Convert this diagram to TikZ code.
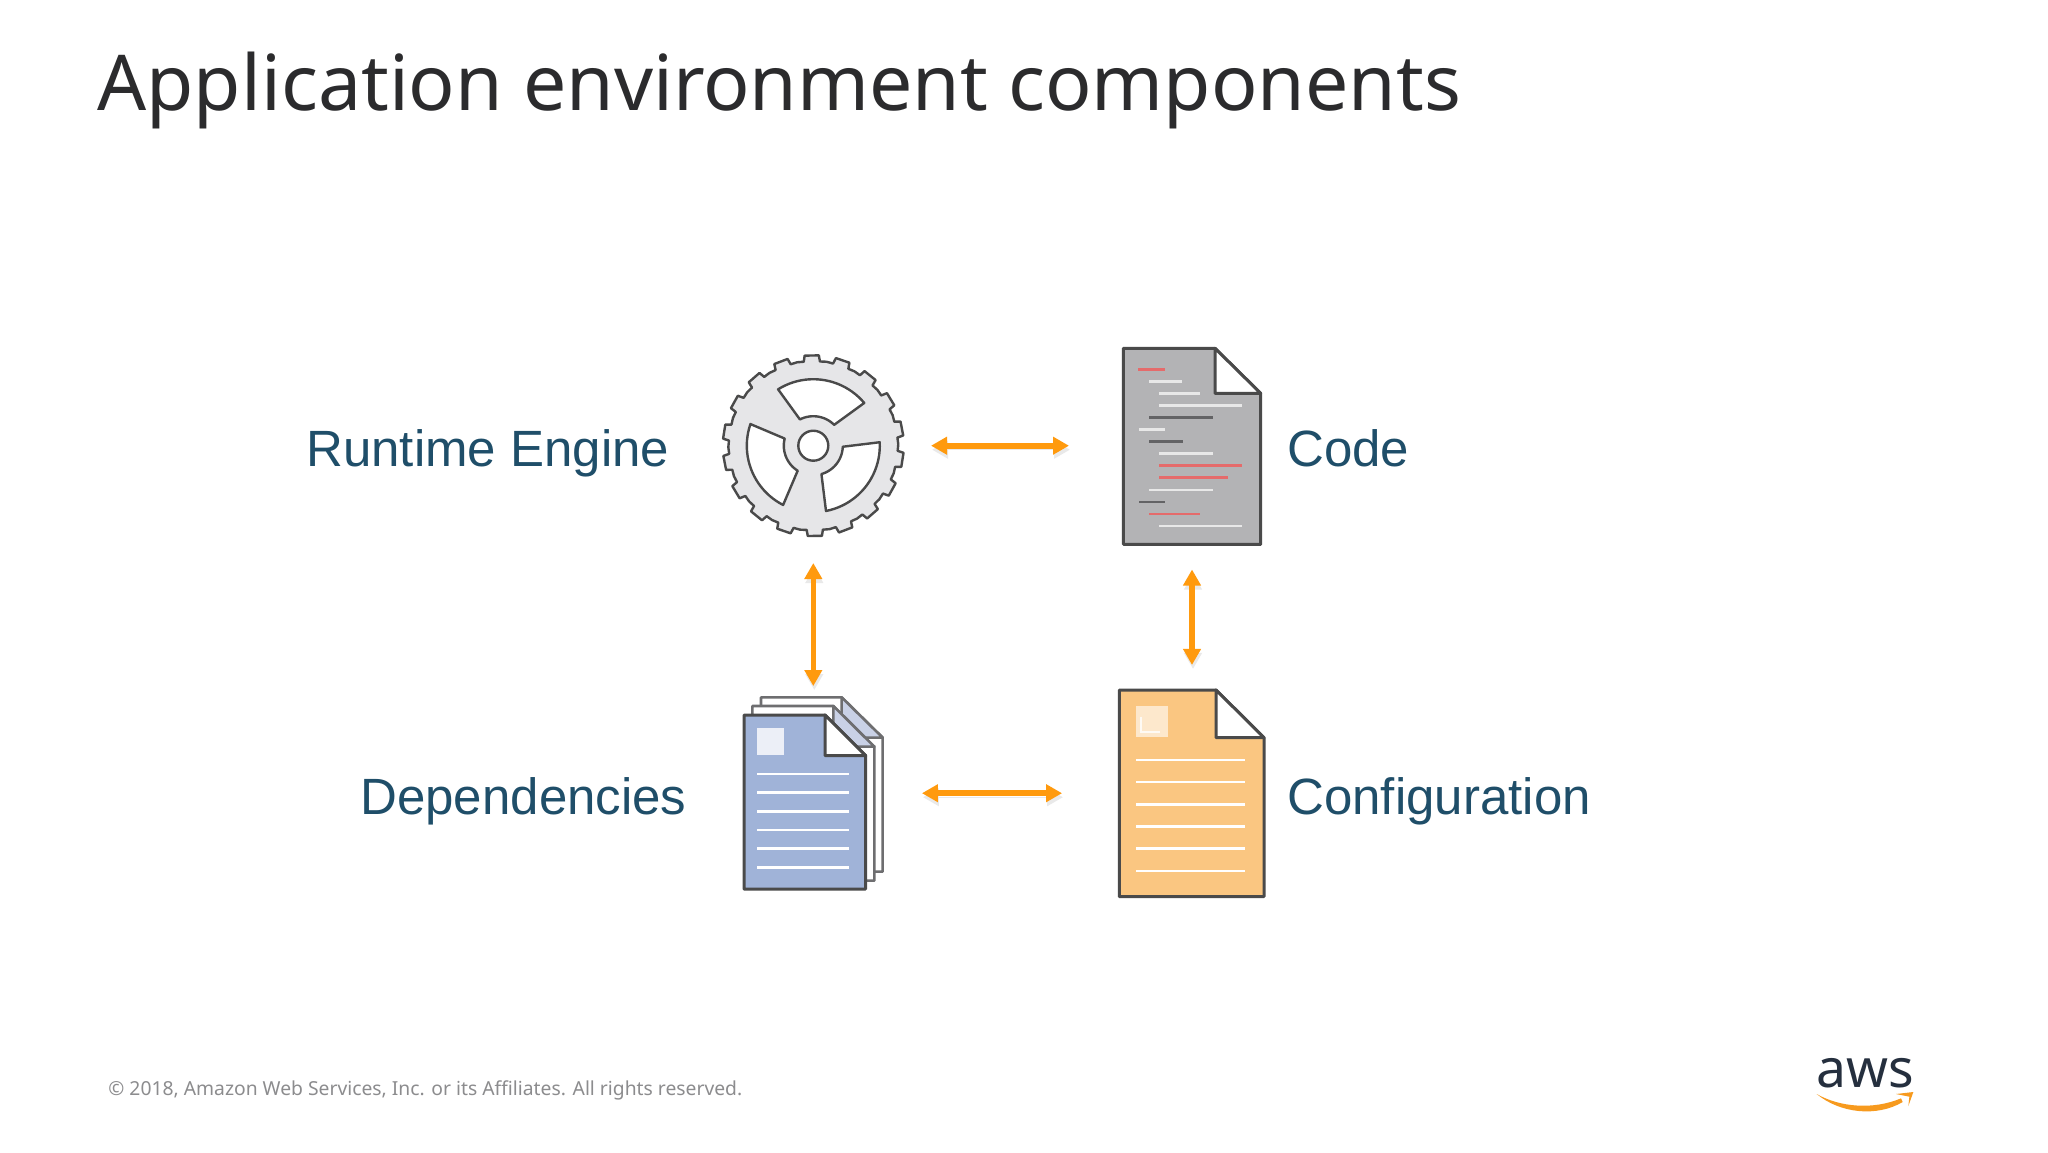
\documentclass[tikz,border=0pt]{standalone}
\usepackage{fontspec}
\setmainfont{Liberation Sans}
\newfontfamily\titlefont{Noto Sans}
\usetikzlibrary{arrows.meta}
\definecolor{inkline}{HTML}{4A4A4A}
\definecolor{sheetline}{HTML}{6E6E70}
\definecolor{gearfill}{HTML}{E6E6E8}
\definecolor{codefill}{HTML}{B3B3B5}
\definecolor{depsfill}{HTML}{A0B3D8}
\definecolor{foldfill}{HTML}{C9D1E6}
\definecolor{conffill}{HTML}{FAC681}
\definecolor{flow}{HTML}{FF9A0E}
\definecolor{flowshade}{HTML}{E9E9E9}
\definecolor{labelblue}{HTML}{1F4E69}
\definecolor{redline}{HTML}{E56B6B}
\definecolor{lightline}{HTML}{E8E8E8}
\definecolor{darkline}{HTML}{636365}
\definecolor{awsink}{HTML}{252F3E}
\definecolor{awsorange}{HTML}{F79A1E}
\tikzset{
  iconbox/.style={draw=none,inner sep=0pt,outer sep=0pt},
  doc/.style={draw=inkline,line width=1.5pt,line join=round},
  sheet/.style={draw=sheetline,line width=1.3pt,line join=round,fill=white},
  gearline/.style={draw=inkline,line width=1.2pt,line join=round},
  codeline/.style={line width=1.3pt},
  paperline/.style={draw=white,line width=1.3pt},
  bothway/.style={draw=flow,line width=2.8pt,
    {Triangle[length=8pt,width=8.5pt]}-{Triangle[length=8pt,width=8.5pt]},
    preaction={draw=flowshade,transform canvas={yshift=-2pt,xshift=.5pt}}},
  label/.style={anchor=base west,inner sep=0pt,text=labelblue,font=\fontsize{25.5}{30}\selectfont},
}
\begin{document}
\begin{tikzpicture}[x=0.5pt,y=-0.5pt]
\useasboundingbox (0,0) rectangle (2048,1152);
\fill[white] (0,0) rectangle (2048,1152);

\node[anchor=base west,inner sep=0pt,text={rgb,255:red,43;green,43;blue,45},font=\titlefont\fontsize{38.5}{46}\selectfont] (title) at (97,110) {Application environment components};

% gear
\begin{scope}[shift={(813.3,445.7)}]
\filldraw[gearline,fill=gearfill] ({-(101)}:85)
  \foreach \t in {91,71,51,31,11,-9,-29,-49,-69,-89,-109,-129,-149,-169,-189,-209,-229,-249}{
    -- ({-(\t+5.5)}:84.5) -- ({-(\t+4.5)}:90.5) -- ({-(\t-4.5)}:90.5) -- ({-(\t-5.5)}:84.5) -- ({-(\t-10)}:85)
  } -- cycle;
\foreach \r in {0,-119,121}{
  \filldraw[gearline,fill=white]
    plot[domain=40:122,samples=24] ({-(\x+\r)}:66.5)
    -- plot[domain=117:45,samples=16] ({-(\x+\r)}:29.5) -- cycle;
}
\filldraw[gearline,fill=white] (0,0) circle[radius=15];
\end{scope}
\node[iconbox,minimum width=91pt,minimum height=91pt] (engine) at (813.3,445.7) {};

% code file
\begin{scope}[shift={(1100,330)},scale=1/3]
\filldraw[doc,fill=codefill] (70,55) -- (345,55) -- (482,190) -- (482,643) -- (70,643) -- cycle;
\filldraw[doc,fill=white] (345,55) -- (482,190) -- (345,190) -- cycle;
\draw[codeline,redline] (115,118) -- (195,118);
\draw[codeline,lightline] (147,155) -- (245,155);
\draw[codeline,lightline] (177,191) -- (300,191);
\draw[codeline,lightline] (177,227) -- (427,227);
\draw[codeline,darkline] (147,263) -- (338,263);
\draw[codeline,lightline] (117,299) -- (195,299);
\draw[codeline,darkline] (147,335) -- (250,335);
\draw[codeline,lightline] (177,371) -- (338,371);
\draw[codeline,redline] (177,407) -- (427,407);
\draw[codeline,redline] (177,443) -- (383,443);
\draw[codeline,lightline] (147,480) -- (338,480);
\draw[codeline,darkline] (117,516) -- (195,516);
\draw[codeline,redline] (147,552) -- (300,552);
\draw[codeline,lightline] (177,588) -- (427,588);
\end{scope}
\node[iconbox,minimum width=68.7pt,minimum height=98pt] (code) at (1192,446.3) {};

% dependencies
\begin{scope}[shift={(730,680)},scale=1/3]
\filldraw[sheet] (93,52) -- (335,52) -- (458,173) -- (458,575) -- (93,575) -- cycle;
\filldraw[sheet,fill=foldfill] (335,52) -- (458,173) -- (335,173) -- cycle;
\filldraw[sheet] (67,78) -- (310,78) -- (433,200) -- (433,602) -- (67,602) -- cycle;
\filldraw[sheet,fill=foldfill] (310,78) -- (433,200) -- (310,200) -- cycle;
\filldraw[doc,fill=depsfill] (42,105) -- (285,105) -- (407,227) -- (407,627) -- (42,627) -- cycle;
\filldraw[doc,fill=white] (285,105) -- (407,227) -- (285,227) -- cycle;
\fill[white,fill opacity=.8] (82,145) rectangle (162,225);
\foreach \y in {282,338,394,450,506,562}{\draw[paperline] (82,\y) -- (358,\y);}
\end{scope}
\node[iconbox,minimum width=69.35pt,minimum height=95.85pt] (deps) at (813.3,793.2) {};

% configuration
\begin{scope}[shift={(1100,680)},scale=1/3]
\filldraw[doc,fill=conffill] (58,30) -- (348,30) -- (492,173) -- (492,650) -- (58,650) -- cycle;
\filldraw[doc,fill=white] (348,30) -- (492,173) -- (348,173) -- cycle;
\fill[white,fill opacity=.6] (108,78) rectangle (204,172);
\draw[white,line width=1pt,opacity=.8] (122,110) -- (122,155) -- (180,155);
\foreach \y in {240,306,373,440,506,573}{\draw[paperline] (108,\y) -- (435,\y);}
\end{scope}
\node[iconbox,minimum width=72.35pt,minimum height=103.35pt] (config) at (1191.7,793.3) {};

% connectors
\draw[bothway,shorten <=13.35pt,shorten >=27.15pt] (engine.east) -- (engine.east -| code.west);
\draw[bothway,shorten <=13.15pt,shorten >=5.65pt] (engine.south) -- (deps.north);
\draw[bothway,shorten <=12.6pt,shorten >=12.5pt] (code.south) -- (code.south |- config.north);
\draw[bothway,shorten <=19.65pt,shorten >=28.65pt] (deps.east) -- (deps.east -| config.west);

% labels
\node[label] (lbengine) at (306,466) {Runtime Engine};
\node[label] (lbcode) at (1287,466) {Code};
\node[label] (lbdeps) at (360,814) {Dependencies};
\node[label] (lbconfig) at (1287,814) {Configuration};

\node[anchor=base west,inner sep=0pt,text={rgb,255:red,140;green,140;blue,142},font=\titlefont\fontsize{9.65}{12}\selectfont] (copy) at (108,1095) {© 2018, Amazon Web Services, Inc. or its Affiliates. All rights reserved.};

% logo
\node[anchor=base,inner sep=0pt,text=awsink,font=\titlefont\fontsize{26.7}{32}\selectfont] (awsword) at (1865,1087) {aws};
\begin{scope}[shift={(1790,1030)},scale=1/3]
\fill[awsorange] (80,192) .. controls (150,232) and (250,240) .. (333,205) -- (338,216) .. controls (260,262) and (150,250) .. cycle;
\fill[awsorange] (318,192) -- (370,186) -- (355,228) -- (358,200) -- cycle;
\end{scope}
\end{tikzpicture}
\end{document}
